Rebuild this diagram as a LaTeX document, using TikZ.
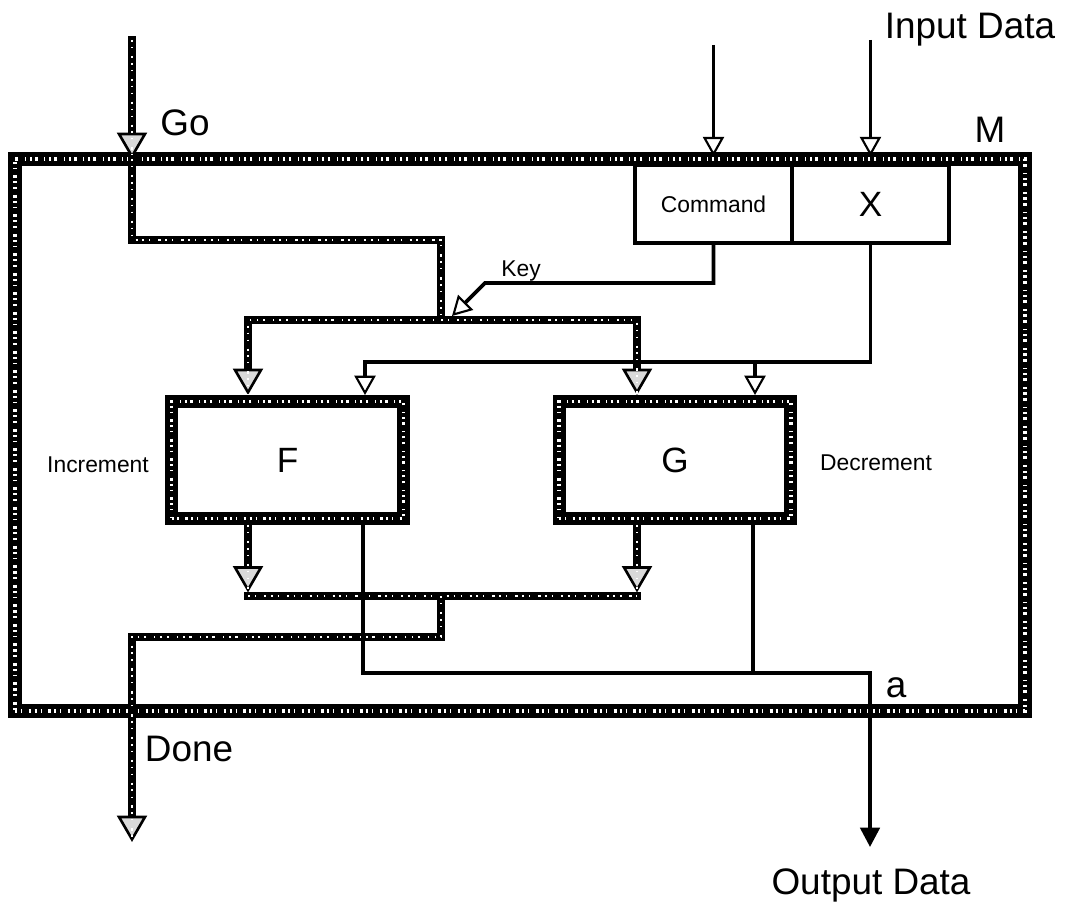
\documentclass[tikz,border=0pt]{standalone}
\usepackage{fontspec}
\setmainfont{Liberation Sans}
\usetikzlibrary{arrows.meta, calc, positioning}

\tikzset{
  bigtip/.tip={Triangle[length=15pt, width=17pt, fill=black!15, line width=1.5pt]},
  thintip/.tip={Triangle[length=11pt, width=12pt, fill=white, line width=1.2pt]},
  outtip/.tip={Triangle[length=11pt, width=11pt]},
  bus/.style={line width=4.5pt, line cap=rect, postaction={draw=white, line width=1.1pt, arrows=-, line cap=butt, dash pattern=on 1pt off 3pt on 0.6pt off 4.5pt on 1.4pt off 2.5pt}},
  wire/.style={line width=2.1pt},
  frame/.style={draw, line width=7.9pt, postaction={draw=white, line width=2.3pt, dash pattern=on 1.2pt off 2.2pt on 0.7pt off 3.6pt on 1.6pt off 1.8pt}},
  unitbox/.style={draw, fill=white, line width=7.4pt, postaction={draw=white, line width=2.1pt, dash pattern=on 1.2pt off 2.2pt on 0.7pt off 3.6pt on 1.6pt off 1.8pt},
    minimum width=4.64cm, minimum height=2.34cm, font=\fontsize{20}{24}\selectfont},
  regbox/.style={draw, line width=1.8pt, outer sep=0pt, minimum width=3.14cm, minimum height=1.56cm},
  biglabel/.style={font=\fontsize{21}{25}\selectfont},
  smalllabel/.style={font=\fontsize{13}{15}\selectfont},
}

\begin{document}
\begin{tikzpicture}[x=0.02cm, y=-0.02cm]
  \useasboundingbox (0,0) rectangle (1067,915);

  % machine M
  \node[frame, minimum width=20.2cm, minimum height=11.04cm] (mach) at (520,435) {};
  \node[biglabel] (mlbl) at (990,130) {M};

  % registers
  \node[regbox, smalllabel] (cmd) at (713.5,204) {Command};
  \node[regbox, font=\fontsize{20}{24}\selectfont, right=0pt of cmd] (xreg) {X};

  % units
  \node[unitbox] (fbox) at (287.5,460) {F};
  \node[unitbox] (gbox) at (675,460) {G};
  \node[smalllabel] (inclbl) at (98,465) {Increment};
  \node[smalllabel] (declbl) at (876,463) {Decrement};

  \coordinate (gotop) at (132,40);
  \coordinate (goin) at (132,159);
  \coordinate (gobend) at (441,240);
  \coordinate (fork) at (441,320);
  \coordinate (forkF) at (248,320);
  \coordinate (forkG) at (637,320);
  \coordinate (keybend) at (485,283);
  \coordinate (keyend) at (452,316);
  \coordinate (xF) at (365,362);
  \coordinate (xG) at (755,362);
  \coordinate (joinF) at (248,596);
  \coordinate (joinG) at (637,596);
  \coordinate (donebend) at (441,637);
  \coordinate (doneend) at (132,842);
  \coordinate (outF) at (363,673);
  \coordinate (outG) at (753,673);
  \coordinate (outbend) at (870,673);
  \coordinate (outend) at (870,847);

  % Go
  \draw[bus, -bigtip] (gotop) -- (goin);
  \node[biglabel] (golbl) at (185,123) {Go};
  \draw[bus] (goin) |- (gobend) -- (fork);
  \draw[bus, -bigtip] (fork) -| (forkF |- fbox.north);
  \draw[bus, -bigtip] (fork) -| (forkG |- gbox.north);

  % results
  \draw[bus, -bigtip, shorten >=2pt] (fbox.south -| joinF) -- (joinF);
  \draw[bus, -bigtip, shorten >=2pt] (gbox.south -| joinG) -- (joinG);
  \draw[bus] (joinF) -- (joinG);
  \draw[bus, -bigtip] (joinF -| fork) -- (donebend) -| (doneend);
  \node[biglabel] (donelbl) at (189,749) {Done};

  % Key
  \draw[wire, -thintip] (cmd.south) |- (keybend) -- (keyend);
  \node[smalllabel] (keylbl) at (521,271) {Key};

  % X into F and G
  \draw[wire, -thintip] (xreg.south) |- (xF) -- (xF |- fbox.north);
  \draw[wire, -thintip] (xG) -- (xG |- gbox.north);

  % inputs
  \draw[wire, -thintip, shorten >=5pt] (cmd.north |- 0,45) -- (cmd.north);
  \draw[wire, -thintip, shorten >=5pt] (xreg.north |- 0,40) -- (xreg.north);
  \node[biglabel] (inlbl) at (970,30) {Input Data};

  % output
  \draw[wire] (gbox.south -| outG) -- (outG);
  \draw[wire, -outtip] (fbox.south -| outF) -- (outF) -- (outbend) -- (outend);
  \node[biglabel] (albl) at (896,688) {a};
  \node[biglabel] (outlbl) at (871,885) {Output Data};
\end{tikzpicture}
\end{document}
